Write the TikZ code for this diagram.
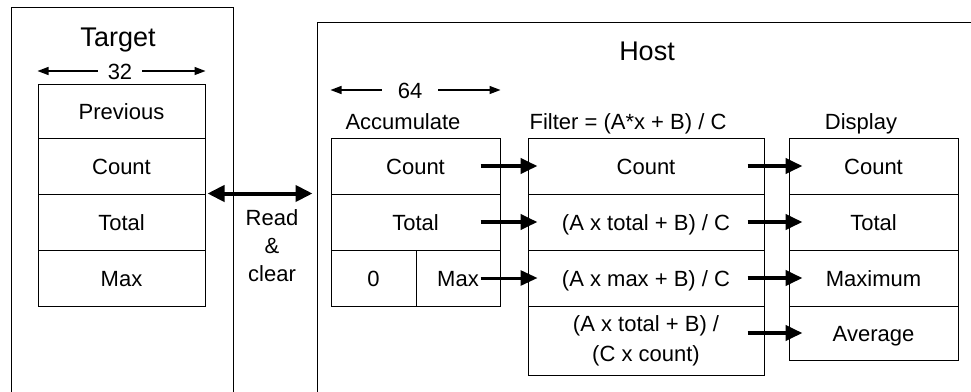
\documentclass[tikz,border=0pt]{standalone}
\usepackage{fontspec}
\setmainfont{Liberation Sans}
\usepackage{tikz}
\usetikzlibrary{arrows.meta,calc}
\newcommand\hwfont{\fontsize{22}{27}\selectfont}
\newcommand\hwbigfont{\fontsize{27}{32}\selectfont}
\tikzset{
  hwframe/.style={draw, line width=1pt, inner sep=0pt},
  hwbox/.style={draw, line width=1pt, inner sep=0pt, minimum height=56pt,
                font=\hwfont},
  hwcell/.style={hwbox, text height=16pt, text depth=0pt},
  hwlab/.style={font=\hwfont, inner sep=0pt, text height=16pt, text depth=0pt},
  hwtitle/.style={font=\hwbigfont, inner sep=0pt, text height=19.5pt,
                  text depth=0pt},
  hwwide/.style={line width=1.3pt, -{Triangle[length=11pt,width=8pt]}},
  hwbus/.style={line width=4pt, -{Triangle[length=17pt,width=15pt]}},
  hwlink/.style={line width=4pt,
                 {Triangle[length=17pt,width=16pt]}-{Triangle[length=17pt,width=16pt]}}
}
\begin{document}
\begin{tikzpicture}[x=1pt,y=-1pt]
  \useasboundingbox (0,0) rectangle (971,391);
  \clip (0,0) rectangle (971,391);
  % frames, open at the bottom
  \node[hwframe, minimum width=222pt, minimum height=413pt] (targframe) at (122,213.5) {};
  \node[hwframe, minimum width=693pt, minimum height=398pt] (hostframe) at (663.5,221) {};
  \node[hwtitle] (targtitle) at (118,37) {Target};
  \node[hwtitle] (hosttitle) at (647,50.5) {Host};
  % target registers
  \node[hwcell, minimum width=167pt, minimum height=54pt] (targprev) at (121.5,111) {Previous};
  \node[hwcell, minimum width=167pt] (targcount) at (121.5,166) {Count};
  \node[hwcell, minimum width=167pt] (targtotal) at (121.5,222) {Total};
  \node[hwcell, minimum width=167pt] (targmax) at (121.5,278) {Max};
  \node[hwlab, inner xsep=10pt] (targwidth) at (120,71) {32};
  \draw[hwwide] (targwidth.west) -- (targwidth -| targprev.west);
  \draw[hwwide] (targwidth.east) -- (targwidth -| targprev.east);
  % link
  \node[font=\fontsize{22}{28}\selectfont, align=center, inner sep=0pt] (readclear) at (272,246) {Read\\\&\\clear};
  \draw[hwlink] ([xshift=2pt]targtotal.north east) -- ($(hostframe.west |- targtotal.north east)+(-4,0)$);
  % host labels
  \node[hwlab] (acclab) at (403,121) {Accumulate};
  \node[hwlab] (filtlab) at (628,121) {Filter = (A*x + B) / C};
  \node[hwlab] (displab) at (861,121) {Display};
  \node[hwlab, inner xsep=16pt] (accwidth) at (410,90) {64};
  % accumulate
  \node[hwcell, minimum width=169pt] (acccount) at (415.5,166) {Count};
  \node[hwcell, minimum width=169pt] (acctotal) at (415.5,222) {Total};
  \node[hwcell, minimum width=85pt] (acczero) at (373.5,278) {0};
  \node[hwcell, minimum width=84pt] (accmax) at (458,278) {Max};
  \draw[hwwide] (accwidth.west) -- (accwidth -| acccount.west);
  \draw[hwwide] (accwidth.east) -- (accwidth -| acccount.east);
  % filter
  \node[hwcell, minimum width=236pt] (filtcount) at (646,166) {Count};
  \node[hwcell, minimum width=236pt] (filttotal) at (646,222) {(A x total + B) / C};
  \node[hwcell, minimum width=236pt] (filtmax) at (646,278) {(A x max + B) / C};
  \node[hwbox, minimum width=236pt, minimum height=69pt, align=center,
        font=\fontsize{22}{30}\selectfont] (filtavg) at (646,340.5) {(A x total + B) /\\(C x count)};
  % display
  \node[hwcell, minimum width=169pt] (dispcount) at (873.5,166) {Count};
  \node[hwcell, minimum width=169pt] (disptotal) at (873.5,222) {Total};
  \node[hwcell, minimum width=169pt] (dispmax) at (873.5,278) {Maximum};
  \node[hwcell, minimum width=169pt, minimum height=54pt] (dispavg) at (873.5,333) {Average};
  % data flow
  \draw[hwbus] ([xshift=-20pt]acccount.east) -- ([xshift=10pt]filtcount.west);
  \draw[hwbus] ([xshift=-20pt]acctotal.east) -- ([xshift=10pt]filttotal.west);
  \draw[hwbus, line width=3pt] ([xshift=-20pt]accmax.east) -- ([xshift=10pt]filtmax.west);
  \draw[hwbus] ([xshift=-17pt]filtcount.east) -- ([xshift=14pt]dispcount.west);
  \draw[hwbus] ([xshift=-17pt]filttotal.east) -- ([xshift=14pt]disptotal.west);
  \draw[hwbus] ([xshift=-17pt]filtmax.east) -- ([xshift=14pt]dispmax.west);
  \draw[hwbus] ($(filtavg.east |- dispavg.west)+(-17,0)$) -- ([xshift=14pt]dispavg.west);
\end{tikzpicture}
\end{document}
